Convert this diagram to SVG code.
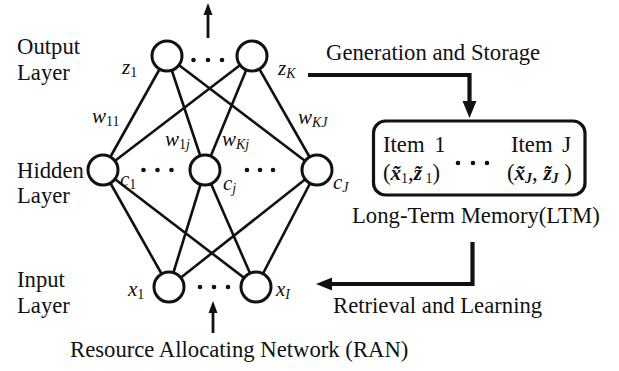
<svg xmlns="http://www.w3.org/2000/svg" width="619" height="371" viewBox="0 0 619 371">
  <style>
    text { font-family: "Liberation Serif", "Times New Roman", serif; fill: #111; }
    .lbl { font-size: 22.7px; }
    .var { font-size: 21px; font-style: italic; }
    .sub { font-size: 14px; font-style: normal; }
    .subi { font-size: 14px; font-style: italic; }
    .bx { font-size: 21px; font-weight: bold; font-style: italic; }
    .node { fill: #fff; stroke: #111; stroke-width: 3; }
    .edge { stroke: #111; stroke-width: 2.6; fill: none; }
    .flow { stroke: #111; stroke-width: 4.2; fill: none; }
    .thin { stroke: #111; stroke-width: 2.8; fill: none; }
    .dot { fill: #111; }
    .head { fill: #111; }
  </style>

  <!-- weighted connections between layers -->
  <g id="connectors">
    <line class="edge" x1="167" y1="56" x2="103" y2="170"/>
    <line class="edge" x1="167" y1="56" x2="205" y2="170"/>
    <line class="edge" x1="167" y1="56" x2="317" y2="170"/>
    <line class="edge" x1="252" y1="56" x2="103" y2="170"/>
    <line class="edge" x1="252" y1="56" x2="205" y2="170"/>
    <line class="edge" x1="252" y1="56" x2="317" y2="170"/>
    <line class="edge" x1="103" y1="170" x2="169" y2="287"/>
    <line class="edge" x1="103" y1="170" x2="256" y2="287"/>
    <line class="edge" x1="205" y1="170" x2="169" y2="287"/>
    <line class="edge" x1="205" y1="170" x2="256" y2="287"/>
    <line class="edge" x1="317" y1="170" x2="169" y2="287"/>
    <line class="edge" x1="317" y1="170" x2="256" y2="287"/>

    <!-- output arrow -->
    <line class="thin" x1="208" y1="38" x2="208" y2="12"/>
    <polygon class="head" points="203.5,15 212.5,15 208,3"/>
    <!-- input arrow -->
    <line class="thin" x1="213" y1="333" x2="213" y2="310"/>
    <polygon class="head" points="208.5,313 217.5,313 213,301"/>

    <!-- generation and storage -->
    <path class="flow" d="M308,75 H469.5 V102"/>
    <polygon class="head" points="462.5,101 476.5,101 469.5,118"/>
    <!-- retrieval and learning -->
    <path class="flow" d="M472.5,242 V284 H330"/>
    <polygon class="head" points="332,277.5 332,290.5 316,284"/>
  </g>

  <!-- output layer -->
  <g id="z1"><circle class="node" cx="167" cy="56" r="15"/></g>
  <g id="zK"><circle class="node" cx="252" cy="56" r="15"/></g>
  <g id="out-dots">
    <circle class="dot" cx="193.5" cy="60" r="2.3"/>
    <circle class="dot" cx="208" cy="60" r="2.3"/>
    <circle class="dot" cx="222" cy="60" r="2.3"/>
  </g>

  <!-- hidden layer -->
  <g id="c1"><circle class="node" cx="103" cy="170" r="15"/></g>
  <g id="cj"><circle class="node" cx="205" cy="170" r="15"/></g>
  <g id="cJ"><circle class="node" cx="317" cy="170" r="15"/></g>
  <g id="hid-dots">
    <circle class="dot" cx="143.5" cy="170" r="2.3"/>
    <circle class="dot" cx="157.5" cy="170" r="2.3"/>
    <circle class="dot" cx="171.5" cy="170" r="2.3"/>
    <circle class="dot" cx="247" cy="170" r="2.3"/>
    <circle class="dot" cx="260" cy="170" r="2.3"/>
    <circle class="dot" cx="273" cy="170" r="2.3"/>
  </g>

  <!-- input layer -->
  <g id="x1"><circle class="node" cx="169" cy="287" r="15"/></g>
  <g id="xI"><circle class="node" cx="256" cy="287" r="15"/></g>
  <g id="in-dots">
    <circle class="dot" cx="200" cy="287" r="2.3"/>
    <circle class="dot" cx="214" cy="287" r="2.3"/>
    <circle class="dot" cx="228" cy="287" r="2.3"/>
  </g>

  <!-- layer names -->
  <g id="layer-labels">
    <text class="lbl" x="17" y="54">Output</text>
    <text class="lbl" x="17" y="80">Layer</text>
    <text class="lbl" x="17" y="178">Hidden</text>
    <text class="lbl" x="17" y="203">Layer</text>
    <text class="lbl" x="17" y="287">Input</text>
    <text class="lbl" x="17" y="313">Layer</text>
  </g>

  <!-- variable names -->
  <g id="var-labels">
    <text class="var" x="122" y="74">z<tspan class="sub" dy="3">1</tspan></text>
    <text class="var" x="278" y="75">z<tspan class="subi" dy="3">K</tspan></text>
    <text class="var" x="92" y="123">w<tspan class="sub" dy="3">11</tspan></text>
    <text class="var" x="165" y="146">w<tspan class="sub" dy="3">1</tspan><tspan class="subi">j</tspan></text>
    <text class="var" x="222" y="146">w<tspan class="subi" dy="3">Kj</tspan></text>
    <text class="var" x="298" y="124">w<tspan class="subi" dy="3">KJ</tspan></text>
    <text class="var" x="120" y="186">c<tspan class="sub" dy="3">1</tspan></text>
    <text class="var" x="223" y="190">c<tspan class="subi" dy="3">j</tspan></text>
    <text class="var" x="333" y="189">c<tspan class="subi" dy="3">J</tspan></text>
    <text class="var" x="128" y="296">x<tspan class="sub" dy="3">1</tspan></text>
    <text class="var" x="276" y="296">x<tspan class="subi" dy="3">I</tspan></text>
  </g>

  <!-- long-term memory -->
  <g id="ltm">
    <rect x="373.5" y="121" width="211.5" height="74" rx="12" ry="12" fill="#fff" stroke="#111" stroke-width="3.2"/>
    <text class="lbl" x="383" y="152" word-spacing="4">Item 1</text>
    <text class="lbl" x="511" y="152" word-spacing="4">Item J</text>
    <text class="lbl" x="383" y="180">(<tspan class="bx">x̃</tspan><tspan class="sub" dy="3">1</tspan><tspan dy="-3">,</tspan><tspan class="bx">z̃</tspan><tspan class="sub" dy="3"> 1</tspan><tspan dy="-3">)</tspan></text>
    <text class="lbl" x="507" y="180">(<tspan class="bx">x̃</tspan><tspan class="subi" dy="3" font-weight="bold">J</tspan><tspan dy="-3">, </tspan><tspan class="bx">z̃</tspan><tspan class="subi" dy="3" font-weight="bold">J</tspan><tspan dy="-3"> )</tspan></text>
    <circle class="dot" cx="458" cy="163" r="2.3"/>
    <circle class="dot" cx="473" cy="163" r="2.3"/>
    <circle class="dot" cx="487" cy="163" r="2.3"/>
    <text class="lbl" x="352" y="223">Long-Term Memory(LTM)</text>
  </g>

  <!-- flow captions -->
  <g id="captions">
    <text class="lbl" x="326" y="60">Generation and Storage</text>
    <text class="lbl" x="333" y="313">Retrieval and Learning</text>
    <text class="lbl" x="70" y="357">Resource Allocating Network (RAN)</text>
  </g>
</svg>
